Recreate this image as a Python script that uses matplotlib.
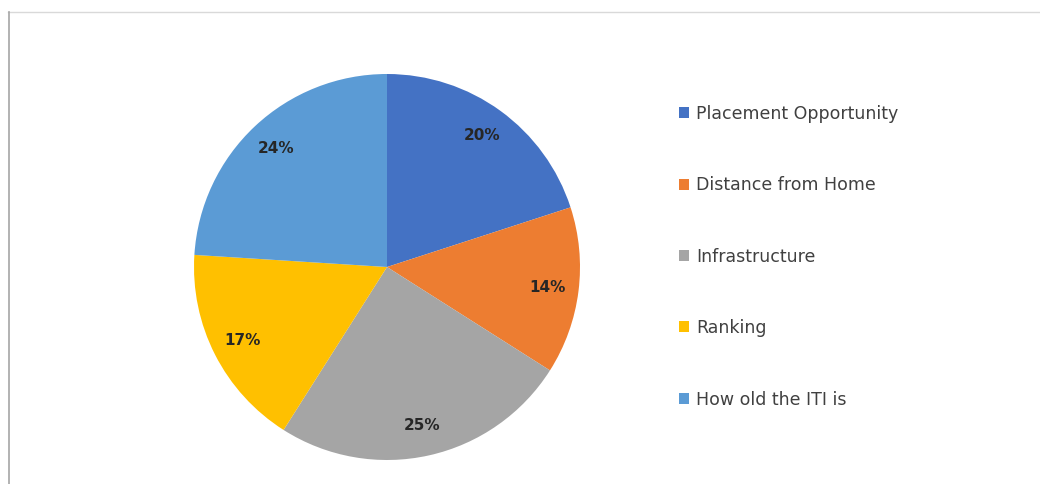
import matplotlib.pyplot as plt
from matplotlib.lines import Line2D

labels = ["Placement Opportunity", "Distance from Home", "Infrastructure",
          "Ranking", "How old the ITI is"]
shares = [20, 14, 25, 17, 24]
colors = ["#4472C4", "#ED7D31", "#A5A5A5", "#FFC000", "#5B9BD5"]

fig = plt.figure(figsize=(10.4, 4.84), dpi=100)
ax = fig.add_axes([194 / 1040, 24 / 484, 386 / 1040, 386 / 484])

wedges, texts, autotexts = ax.pie(
    shares, colors=colors, startangle=90, counterclock=False,
    autopct="%d%%", pctdistance=0.84, radius=1,
    wedgeprops=dict(linewidth=0),
    textprops=dict(color="#262626", fontsize=11, fontweight="bold"))
ax.set_xlim(-1, 1)
ax.set_ylim(-1, 1)
ax.set_aspect("equal")

fig.legend(wedges, labels, loc="upper left", bbox_to_anchor=(670 / 1040, 1 - 96 / 484),
           frameon=False, fontsize=12.5, labelcolor="#404040",
           handlelength=0.6, handleheight=0.6, handletextpad=0.4,
           labelspacing=3.08, borderpad=0)

# chart area border (top and left edges)
fig.add_artist(Line2D([8 / 1040, 1], [1 - 12 / 484, 1 - 12 / 484],
                      transform=fig.transFigure, color="#d9d9d9", linewidth=1))
fig.add_artist(Line2D([9 / 1040, 9 / 1040], [0, 1 - 12 / 484],
                      transform=fig.transFigure, color="#a6a6a6", linewidth=1.2))

fig.savefig("out.png", dpi=100)
